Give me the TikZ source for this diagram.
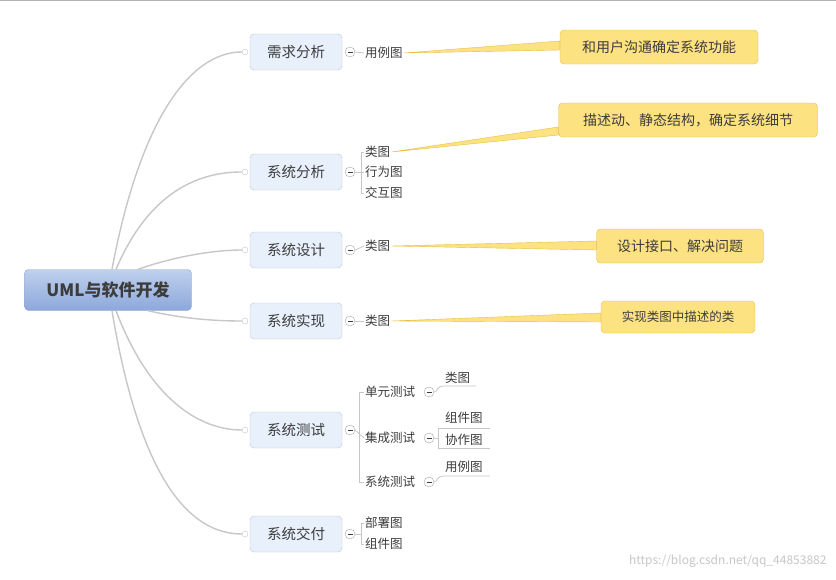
\documentclass[tikz,border=0pt]{standalone}
\usepackage{fontspec}
\setmainfont{Noto Sans CJK SC}
\usetikzlibrary{positioning, calc}
\definecolor{branchfill}{RGB}{232, 240, 252}
\definecolor{branchline}{RGB}{190, 196, 208}
\definecolor{rootline}{RGB}{150, 168, 200}
\definecolor{roottop}{RGB}{190, 208, 238}
\definecolor{rootbot}{RGB}{140, 168, 218}
\definecolor{linkgray}{RGB}{200, 198, 198}
\definecolor{noteyellow}{RGB}{253, 226, 130}
\definecolor{noteline}{RGB}{230, 190, 70}
\definecolor{textgray}{RGB}{60, 60, 60}
\tikzset{
  rootbox/.style={draw=rootline, rounded corners=4pt, top color=roottop, bottom color=rootbot,
    minimum width=167pt, minimum height=41pt, font=\fontsize{17}{17}\selectfont\bfseries, text=textgray},
  branch/.style={draw=branchline, fill=branchfill, rounded corners=4pt, minimum width=92pt, minimum height=36pt,
    font=\fontsize{14.5}{15}\selectfont, text=textgray},
  knob/.style={circle, draw=linkgray, fill=white, inner sep=0pt, minimum size=6pt},
  fold/.style={circle, draw=gray!70, fill=white, inner sep=0pt, minimum size=10pt,
    path picture={\draw[textgray, thick] ($(path picture bounding box.center)+(-2.5pt,0)$) -- ++(5pt,0);}},
  leaf/.style={font=\fontsize{12.5}{13}\selectfont, text=textgray, inner sep=1pt, anchor=west},
  note/.style={draw=noteline, fill=noteyellow, rounded corners=4pt, font=\fontsize{14}{14}\selectfont, text=textgray,
    minimum height=34pt},
  link/.style={draw=linkgray, line width=1.4pt},
  twig/.style={draw=linkgray, line width=0.8pt},
}
\begin{document}
\begin{tikzpicture}[x=1pt, y=-1pt]
  \useasboundingbox (0,0) rectangle (836,579);
  \draw[gray!60] (0,0.5) -- (836,0.5);

  % root
  \node[rootbox] (root) at (108,290) {UML与软件开发};

  % branches
  \foreach \name/\y/\txt in {req/52/需求分析, ana/172/系统分析, des/250/系统设计, imp/321/系统实现, tst/430/系统测试, dlv/534/系统交付}{
    \node[branch] (\name) at (296,\y) {\txt};
    \node[knob] (\name-in) at (245,\y) {};
    \node[fold] (\name-f) at (350,\y) {};
  }

  % links from root
  \draw[link] (root.north)+(4,0) .. controls (140,120) and (190,52) .. (req-in);
  \draw[link] (root.north)+(8,0) .. controls (150,190) and (200,172) .. (ana-in);
  \draw[link] (root.north)+(30,0) .. controls (170,258) and (210,250) .. (des-in);
  \draw[link] (root.south)+(40,0) .. controls (180,318) and (210,321) .. (imp-in);
  \draw[link] (root.south)+(8,0) .. controls (150,400) and (200,430) .. (tst-in);
  \draw[link] (root.south)+(4,0) .. controls (140,480) and (190,534) .. (dlv-in);

  % leaves
  \node[leaf] (req-a) at (364,53) {用例图};
  \node[leaf] (ana-a) at (364,152) {类图};
  \node[leaf] (ana-b) at (364,172) {行为图};
  \node[leaf] (ana-c) at (364,193) {交互图};
  \node[leaf] (des-a) at (364,246) {类图};
  \node[leaf] (imp-a) at (364,321) {类图};
  \node[leaf] (tst-a) at (364,392) {单元测试};
  \node[leaf] (tst-b) at (364,438) {集成测试};
  \node[leaf] (tst-c) at (364,482) {系统测试};
  \node[leaf] (dlv-a) at (364,523) {部署图};
  \node[leaf] (dlv-b) at (364,544) {组件图};

  \foreach \a in {req, des, imp}{
    \draw[twig] (\a-f.east) -- (\a-a.west);
  }
  \draw[twig] (ana-f.east) -- (ana-b.west);
  \draw[twig] (ana-a.west) -- ++(-3,0) -- (361,193) -- (ana-c.west);
  \draw[twig] (tst-f.east) -- (tst-b.west);
  \draw[twig] (tst-a.west) -- ++(-5,0) -- (359,482) -- (tst-c.west);
  \draw[twig] (dlv-f.east) -- (361,534);
  \draw[twig] (dlv-a.west) -- ++(-3,0) -- (361,544) -- (dlv-b.west);

  % test sub leaves
  \node[fold] (tst-af) at (429,392) {};
  \node[fold] (tst-bf) at (429,438) {};
  \node[fold] (tst-cf) at (429,482) {};
  \node[leaf] (tst-a1) at (444,378) {类图};
  \node[leaf] (tst-b1) at (444,418) {组件图};
  \node[leaf] (tst-b2) at (444,440) {协作图};
  \node[leaf] (tst-c1) at (444,467) {用例图};
  \draw[twig] (tst-af.east) .. controls (438,392) and (436,386) .. (444,386) -- (476,386);
  \draw[twig] (tst-bf.east) -- (438,438);
  \draw[twig] (438,448) -- (438,428) -- (490,428);
  \draw[twig] (438,448) -- (490,448);
  \draw[twig] (tst-cf.east) .. controls (438,482) and (436,476) .. (444,476) -- (490,476);

  % notes
  \node[note, minimum width=198pt] (n1) at (659,47) {和用户沟通确定系统功能};
  \node[note, minimum width=259pt] (n2) at (688,120) {描述动、静态结构，确定系统细节};
  \node[note, minimum width=167pt] (n3) at (680,246) {设计接口、解决问题};
  \node[note, minimum width=154pt, minimum height=32pt, font=\fontsize{12.5}{13}\selectfont] (n4) at (678,317) {实现类图中描述的类};
  \fill[noteyellow, draw=noteline, line width=0.4pt] (req-a.east) -- (n1.west |- 0,41) -- (n1.west |- 0,50) -- cycle;
  \fill[noteyellow, draw=noteline, line width=0.4pt] (ana-a.east) -- (n2.west |- 0,127) -- (n2.west |- 0,135) -- cycle;
  \fill[noteyellow, draw=noteline, line width=0.4pt] (des-a.east) -- (n3.west |- 0,241) -- (n3.west |- 0,250) -- cycle;
  \fill[noteyellow, draw=noteline, line width=0.4pt] (imp-a.east) -- (n4.west |- 0,313) -- (n4.west |- 0,322) -- cycle;

  % watermark
  \node[font=\fontsize{12}{12}\selectfont, text=gray!45, anchor=east] (mark) at (830,561) {https://blog.csdn.net/qq\_44853882};
\end{tikzpicture}
\end{document}
